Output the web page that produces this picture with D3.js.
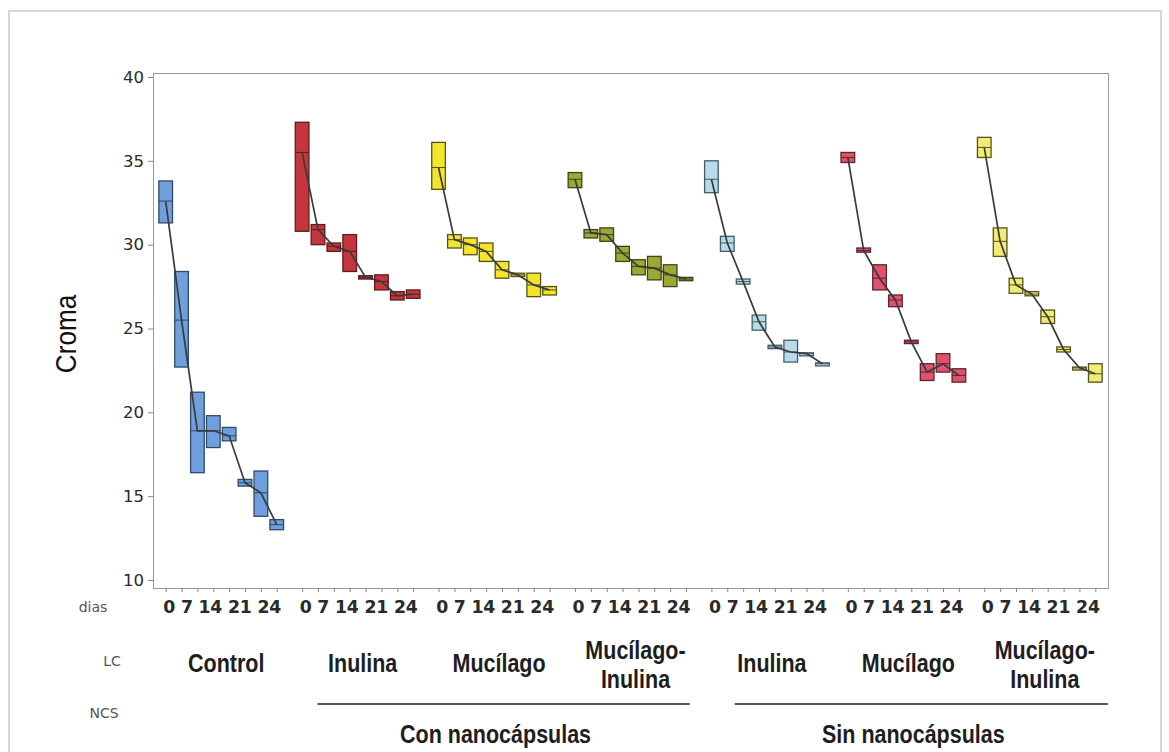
<!DOCTYPE html>
<html><head><meta charset="utf-8">
<script src="https://cdn.jsdelivr.net/npm/d3@7"></script>
<style>
body{margin:0;background:#fff;}
svg{display:block;}
</style></head>
<body>
<svg id="chart" width="1169" height="752"></svg>
<script>
// ---------- data ----------
const groupIds = ["Control","Con Inulina","Con Mucílago","Con Mucílago-Inulina","Sin Inulina","Sin Mucílago","Sin Mucílago-Inulina"];
const lcLabels = [["Control"],["Inulina"],["Mucílago"],["Mucílago-","Inulina"],["Inulina"],["Mucílago"],["Mucílago-","Inulina"]];
const ncsLabels = ["Con nanocápsulas","Sin nanocápsulas"];
const ncsFirstGroup = [1,4];
const ncsLastGroup = [3,6];
const dayLabels = ["0","7","14","21","24"];
const slots = [1,2,3,4,5,6,7,8];
const yTicks = [10,15,20,25,30,35,40];
// each box: [low, centre, high]
const control = [[31.3,32.6,33.8],[22.7,25.5,28.4],[16.4,18.9,21.2],[17.9,18.9,19.8],[18.3,18.6,19.1],[15.6,15.8,16.0],[13.8,15.2,16.5],[13.0,13.3,13.6]];
const conInulina = [[30.8,35.5,37.3],[30.0,30.9,31.2],[29.6,29.9,30.1],[28.4,29.6,30.6],[27.95,28.05,28.15],[27.3,27.8,28.2],[26.7,26.95,27.2],[26.8,27.05,27.3]];
const conMucilago = [[33.3,34.6,36.1],[29.8,30.3,30.6],[29.4,30.0,30.4],[29.0,29.6,30.1],[28.0,28.5,29.0],[28.1,28.2,28.3],[26.9,27.6,28.3],[27.0,27.3,27.5]];
const conMucInulina = [[33.4,33.9,34.3],[30.4,30.7,30.9],[30.2,30.6,31.0],[29.0,29.5,29.9],[28.2,28.7,29.1],[27.9,28.6,29.3],[27.5,28.2,28.8],[27.85,27.95,28.05]];
const sinInulina = [[33.1,33.9,35.0],[29.6,30.1,30.5],[27.65,27.8,27.95],[24.9,25.4,25.8],[23.8,23.9,24.0],[23.0,23.6,24.3],[23.45,23.5,23.55],[22.85,22.9,22.95]];
const sinMucilago = [[34.9,35.2,35.5],[29.55,29.65,29.8],[27.3,28.0,28.8],[26.3,26.7,27.0],[24.1,24.2,24.3],[21.9,22.4,22.9],[22.4,22.9,23.5],[21.8,22.2,22.6]];
const sinMucInulina = [[35.2,35.8,36.4],[29.3,30.2,31.0],[27.1,27.6,28.0],[26.95,27.05,27.2],[25.3,25.7,26.1],[23.6,23.75,23.9],[22.6,22.65,22.7],[21.8,22.3,22.9]];
const seriesData = [control, conInulina, conMucilago, conMucInulina, sinInulina, sinMucilago, sinMucInulina];

// ---------- styles ----------
const fills   = ["#6f9fdc","#c4353c","#f2e52c","#9caa33","#b7dbe9","#e0526b","#f2ec74"];
const strokes = ["#2f4a6a","#5a1d1f","#55521a","#3c4318","#3f5d68","#5c2530","#55531f"];

const svg = d3.select("#chart");
const L = 153, R = 1108, T = 73, B = 588;

// outer frame
svg.append("rect").attr("x",9).attr("y",11).attr("width",1152).attr("height",760)
  .attr("fill","none").attr("stroke","#d6d6d6").attr("stroke-width",2);

const y = d3.scaleLinear().domain([10,40]).range([580,77]);
const xg = d3.scaleBand().domain(groupIds).range([L,R]).padding(0);
const xs = d3.scalePoint().domain(slots).range([0,xg.bandwidth()]).padding(0.8);
const bw = xs.step()*0.86;

// plot frame
svg.append("rect").attr("x",L+0.5).attr("y",T+0.5).attr("width",R-L).attr("height",B-T)
  .attr("fill","none").attr("stroke","#9a9a9a").attr("stroke-width",1);

// y axis
const yAxis = svg.append("g").attr("transform",`translate(${L},0)`)
  .call(d3.axisLeft(y).tickValues(yTicks).tickSize(5).tickPadding(4));
yAxis.select(".domain").remove();
yAxis.selectAll(".tick line").attr("stroke","#888");
yAxis.selectAll(".tick text").attr("font-family","'DejaVu Sans',Verdana,sans-serif")
  .attr("font-size",16.5).attr("fill","#2a2a2a");

// x ticks per group
groupIds.forEach((g,gi)=>{
  const ax = svg.append("g").attr("transform",`translate(${xg(g)},${B})`)
    .call(d3.axisBottom(xs).tickSize(4).tickFormat(""));
  ax.select(".domain").remove();
  ax.selectAll(".tick line").attr("stroke","#888");
});

// boxes + connect lines
seriesData.forEach((arr,gi)=>{
  const g0 = xg(groupIds[gi]);
  const gg = svg.append("g");
  const pts = arr.map((d,i)=>({x:g0+xs(slots[i]), lo:d[0], mid:d[1], hi:d[2]}));
  gg.selectAll("rect").data(pts).join("rect")
    .attr("x",d=>d.x-bw/2).attr("width",bw)
    .attr("y",d=>y(d.hi)).attr("height",d=>Math.max(3,y(d.lo)-y(d.hi)))
    .attr("fill",fills[gi]).attr("stroke",strokes[gi]).attr("stroke-width",1.3);
  gg.selectAll("line.med").data(pts).join("line").attr("class","med")
    .attr("x1",d=>d.x-bw/2).attr("x2",d=>d.x+bw/2)
    .attr("y1",d=>y(d.mid)).attr("y2",d=>y(d.mid))
    .attr("stroke",strokes[gi]).attr("stroke-width",1);
  gg.append("path").datum(pts)
    .attr("d",d3.line().x(d=>d.x).y(d=>y(d.mid)))
    .attr("fill","none").attr("stroke","#3a3a3a").attr("stroke-width",1.7);
});

// day labels
groupIds.forEach((g,gi)=>{
  svg.append("text").attr("x",xg(g)+xg.bandwidth()/2+1).attr("y",613)
    .attr("text-anchor","middle").attr("font-family","'DejaVu Sans',Verdana,sans-serif")
    .attr("font-weight","bold").attr("font-size",17.3).attr("letter-spacing",-0.2).attr("fill","#2a2a2a")
    .text(dayLabels.join(" "));
});

// row headers
const hdrFont = "'DejaVu Sans',Verdana,sans-serif";
[["dias",93,612],["LC",112,666],["NCS",104,718]].forEach(([t,xx,yy])=>{
  svg.append("text").attr("x",xx).attr("y",yy).attr("text-anchor","middle")
    .attr("font-family",hdrFont).attr("font-size",14).attr("fill","#555").text(t);
});

// narrow bold label helper (Arial-like, horizontally condensed)
const lcFont = "'Liberation Sans',Arial,sans-serif";
function narrowText(x, yy, t, size, weight){
  svg.append("g").attr("transform",`translate(${x},${yy}) scale(0.86,1)`)
    .append("text").attr("text-anchor","middle").attr("font-family",lcFont)
    .attr("font-weight",weight).attr("font-size",size).attr("fill","#1e1e1e").text(t);
}

// LC labels
lcLabels.forEach((lines,gi)=>{
  const cx = xg(groupIds[gi])+xg.bandwidth()/2+5;
  const y0 = lines.length===1 ? 672 : 659;
  lines.forEach((ln,li)=> narrowText(cx, y0+li*29, ln, 25, "bold"));
});

// NCS lines + labels
const ncsStartOff = [28,36], ncsEndOff = [-9,0];
ncsLabels.forEach((t,i)=>{
  const x1 = xg(groupIds[ncsFirstGroup[i]])+ncsStartOff[i];
  const x2 = xg(groupIds[ncsLastGroup[i]])+xg.bandwidth()+ncsEndOff[i];
  svg.append("line").attr("x1",x1).attr("x2",x2).attr("y1",704).attr("y2",704)
    .attr("stroke","#222").attr("stroke-width",1.6);
  narrowText((x1+x2)/2-8, 743, t, 25, "bold");
});

// y title
svg.append("g").attr("transform","translate(76,334) rotate(-90) scale(0.9,1)")
  .append("text").attr("text-anchor","middle").attr("font-family",lcFont).attr("font-size",29)
  .attr("fill","#111").text("Croma");
</script>
</body></html>
